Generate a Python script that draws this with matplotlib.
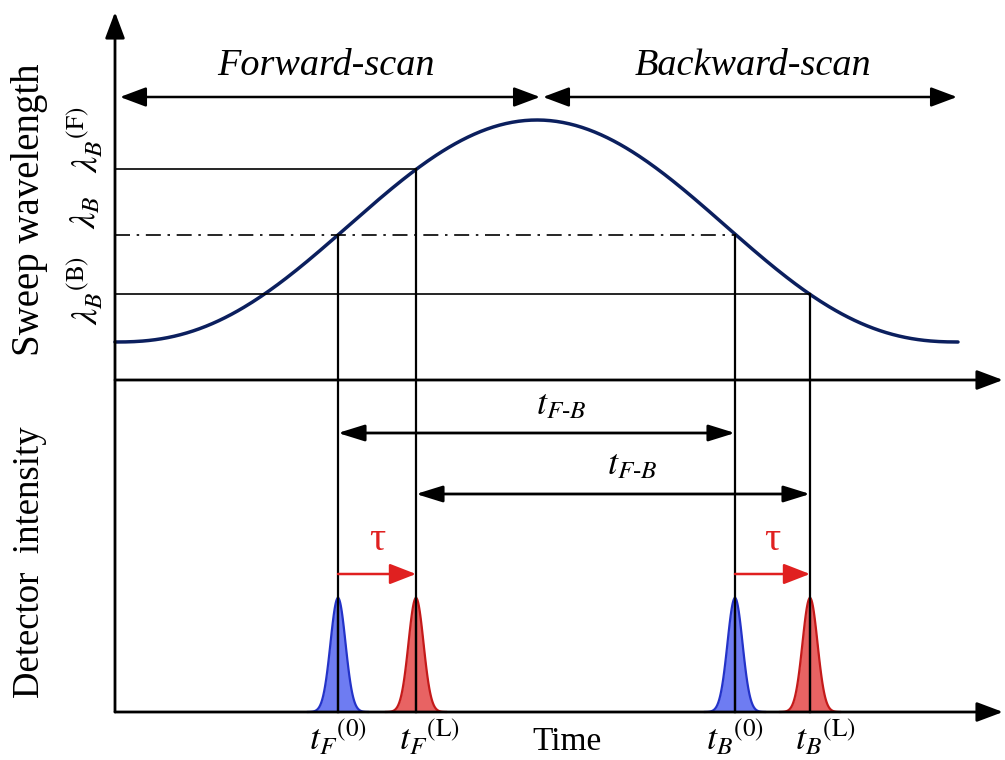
"""Schematic of the forward/backward sweep and detector peaks."""

import matplotlib

matplotlib.use("Agg")
import matplotlib.pyplot as plt
import numpy as np

plt.rcParams["font.family"] = ["Liberation Serif", "DejaVu Serif"]
plt.rcParams["mathtext.fontset"] = "stix"

# drawing is laid out on a 1005 x 760 canvas (y grows downward)
T_START, T_END = 115, 958          # sweep time range
T_PEAK = 537                       # top of the sweep
SWEEP_BASE, SWEEP_AMP = 342, 222   # lowest / span of the sweep
SWEEP_HALF = 422                   # half period of the sweep
SWEEP_SHARP = 1.2                  # shape exponent of the sweep

# crossing times of the Bragg wavelengths
T_F0, T_FL = 338, 416              # forward scan: reference, loaded
T_B0, T_BL = 735, 810              # backward scan: reference, loaded

AXIS_X = 115
UPPER_AXIS_Y = 380
LOWER_AXIS_Y = 712
PEAK_HEIGHT = 114
PEAK_SIGMA = 7.5

BLUE_FILL, BLUE_EDGE = "#6e7cf2", "#2433c8"
RED_FILL, RED_EDGE = "#e86363", "#c41a1a"
CURVE_COLOR = "#0b1f5e"


def sweep(t):
    shape = (1 + np.cos(np.pi * (t - T_PEAK) / SWEEP_HALF)) / 2
    return SWEEP_BASE - SWEEP_AMP * shape ** SWEEP_SHARP


def arrow(ax, x0, y0, x1, y1, style="-|>", color="black", lw=1.6, hl=0.8, hw=0.3, ms=20):
    ax.annotate(
        "",
        xy=(x1, y1),
        xytext=(x0, y0),
        arrowprops=dict(
            arrowstyle=f"{style},head_length={hl},head_width={hw}",
            color=color,
            lw=lw,
            shrinkA=0,
            shrinkB=0,
            mutation_scale=ms,
        ),
    )


fig = plt.figure(figsize=(10.05, 7.6), dpi=100)
ax = fig.add_axes([0, 0, 1, 1])
ax.set_xlim(0, 1005)
ax.set_ylim(760, 0)
ax.axis("off")

# axes with arrow heads
arrow(ax, AXIS_X, LOWER_AXIS_Y, AXIS_X, 12, lw=2)
arrow(ax, AXIS_X, UPPER_AXIS_Y, 1003, UPPER_AXIS_Y, lw=2)
arrow(ax, AXIS_X, LOWER_AXIS_Y, 1003, LOWER_AXIS_Y, lw=2)

# sweep curve
t = np.linspace(T_START, T_END, 400)
ax.plot(t, sweep(t), color=CURVE_COLOR, lw=2.5, solid_capstyle="round")

# wavelength levels
y_F = sweep(T_FL)
y_0 = sweep(T_F0)
y_B = sweep(T_BL)
ax.plot([AXIS_X, T_FL], [y_F, y_F], color="black", lw=1.2)
ax.plot([AXIS_X, T_B0], [y_0, y_0], color="black", lw=1.2, linestyle=(0, (9, 4, 1.5, 4)))
ax.plot([AXIS_X, T_BL], [y_B, y_B], color="black", lw=1.2)

# vertical drop lines
for tc, yc in [(T_F0, y_0), (T_FL, y_F), (T_B0, y_0), (T_BL, y_B)]:
    ax.plot([tc, tc], [yc, LOWER_AXIS_Y], color="black", lw=1.6)

# scan direction arrows
arrow(ax, 120, 97, T_PEAK + 3, 97, style="<|-|>", lw=1.8)
arrow(ax, T_PEAK + 6, 97, 957, 97, style="<|-|>", lw=1.8)
ax.text(326, 66, "Forward-scan", fontsize=27.5, style="italic", ha="center", va="center")
ax.text(753, 66, "Backward-scan", fontsize=27.5, style="italic", ha="center", va="center")

# time differences
arrow(ax, T_F0, 433, T_B0, 433, style="<|-|>", lw=2, hl=0.9, hw=0.28, ms=18)
arrow(ax, T_FL, 494, T_BL, 494, style="<|-|>", lw=2, hl=0.9, hw=0.28, ms=18)
ax.text(561, 406, r"$t_{F\text{-}B}$", fontsize=26, ha="center", va="center")
ax.text(632, 466, r"$t_{F\text{-}B}$", fontsize=26, ha="center", va="center")

# wavelength shift arrows
for t0, t1 in [(T_F0, T_FL), (T_B0, T_BL)]:
    arrow(ax, t0, 574, t1, 574, color="#e02020", lw=1.8, hl=0.9, hw=0.35, ms=18)
    ax.text((t0 + t1) / 2, 540, "τ", color="#e02020", fontsize=29, ha="center", va="center")

# detector peaks
for tc, fill, edge in [(T_F0, BLUE_FILL, BLUE_EDGE), (T_FL, RED_FILL, RED_EDGE),
                       (T_B0, BLUE_FILL, BLUE_EDGE), (T_BL, RED_FILL, RED_EDGE)]:
    tp = np.linspace(tc - 4 * PEAK_SIGMA, tc + 4 * PEAK_SIGMA, 120)
    yp = LOWER_AXIS_Y - PEAK_HEIGHT * np.exp(-((tp - tc) ** 2) / (2 * PEAK_SIGMA ** 2))
    ax.fill_between(tp, yp, LOWER_AXIS_Y, color=fill, lw=0)
    ax.plot(tp, yp, color=edge, lw=1.6)
    ax.plot([tc, tc], [LOWER_AXIS_Y - PEAK_HEIGHT, LOWER_AXIS_Y], color="black", lw=1.6)

# time labels
ax.text(T_F0, 738, r"$t_F{}^{(0)}$", fontsize=26, ha="center", va="center")
ax.text(T_FL + 13, 738, r"$t_F{}^{(\mathrm{L})}$", fontsize=26, ha="center", va="center")
ax.text(567, 742, "Time", fontsize=24, ha="center", va="center")
ax.text(T_B0, 738, r"$t_B{}^{(0)}$", fontsize=26, ha="center", va="center")
ax.text(T_BL + 15, 738, r"$t_B{}^{(\mathrm{L})}$", fontsize=26, ha="center", va="center")

# axis titles
ax.text(30, 210, "Sweep wavelength", fontsize=28, rotation=90, ha="center", va="center")
ax.text(30, 562, "Detector  intensity", fontsize=26.5, rotation=90, ha="center", va="center")

# wavelength labels
ax.text(86, 140, r"$\lambda_B{}^{(\mathrm{F})}$", fontsize=26, rotation=90, ha="center", va="center")
ax.text(86, 212, r"$\lambda_B$", fontsize=26, rotation=90, ha="center", va="center")
ax.text(86, 290, r"$\lambda_B{}^{(\mathrm{B})}$", fontsize=26, rotation=90, ha="center", va="center")

fig.savefig("out.png", dpi=100)
plt.close(fig)
